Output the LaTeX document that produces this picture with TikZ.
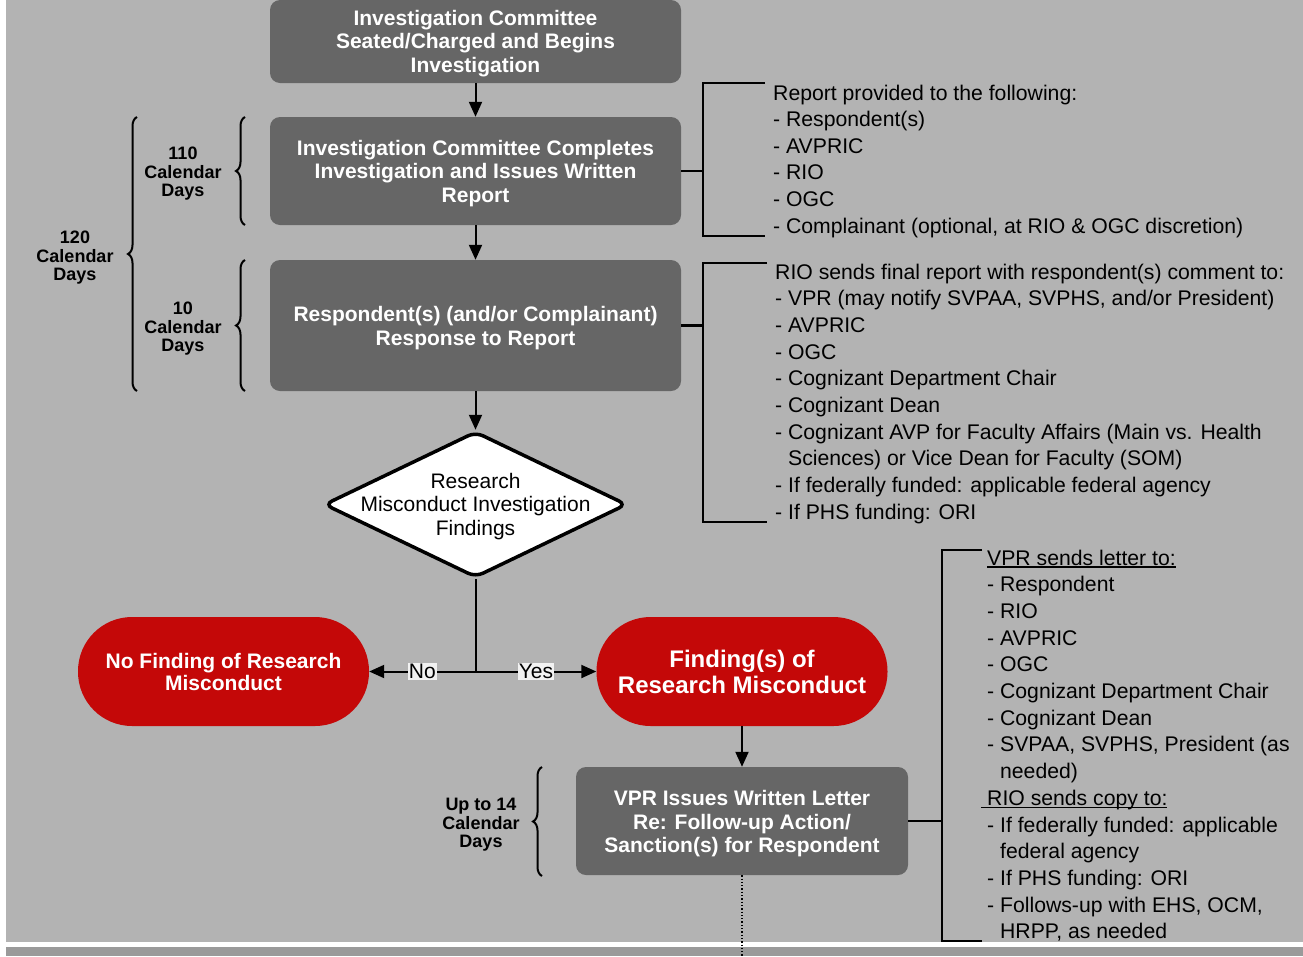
\documentclass[tikz,border=0pt]{standalone}
\usepackage{fontspec}
\setmainfont{Liberation Sans}
\usetikzlibrary{arrows.meta,shapes.geometric,decorations.pathreplacing}
\definecolor{bg}{HTML}{B3B3B3}
\definecolor{bgdark}{HTML}{9A9A9A}
\definecolor{boxgray}{HTML}{666666}
\definecolor{ovalred}{HTML}{C40808}
\definecolor{lblfill}{HTML}{F2F2F2}
\newcommand\ulx[1]{\setbox0\hbox{#1}\rlap{\rule[-2.5pt]{\wd0}{1.3pt}}#1}
\begin{document}
\begin{tikzpicture}[x=1pt,y=-1pt,
  stepbox/.style={fill=boxgray, rounded corners=10pt, inner sep=0pt,
    minimum width=411pt},
  boxtext/.style={text=white, font=\bfseries\fontsize{21}{23.5}\selectfont,
    align=center, inner sep=0pt},
  oval/.style={fill=ovalred, rounded corners=54pt, text=white,
    font=\bfseries\fontsize{21}{22}\selectfont, align=center, inner sep=0pt,
    minimum width=291pt, minimum height=109pt},
  dia/.style={diamond, draw=black, fill=white, line width=3.5pt,
    minimum width=303pt, minimum height=146pt, inner sep=0pt, rounded corners=8pt},
  diatext/.style={font=\fontsize{21}{23.5}\selectfont, align=center, inner sep=0pt},
  arr/.style={line width=2pt, -{Triangle[length=15pt,width=13pt]}},
  plain/.style={line width=2pt},
  brk/.style={line width=2.5pt},
  brc/.style={line width=2pt, decorate, decoration={brace, amplitude=9pt}},
  days/.style={font=\bfseries\fontsize{18}{18.5}\selectfont, align=center, inner sep=0pt},
  lbl/.style={fill=lblfill, inner sep=1pt, font=\fontsize{21}{23}\selectfont},
  lst/.style={font=\fontsize{21.2}{26.6}\selectfont, anchor=base west, inner sep=0pt}
]
\useasboundingbox (0,0) rectangle (1303,956);
\fill[white] (0,0) rectangle (1303,956);
\fill[bg] (6,0) rectangle (1303,942);
\fill[bgdark] (6,947) rectangle (1303,956);

% main flow
\node[stepbox, minimum height=83pt] (b1) at (475.5,41.5) {};
\node[boxtext] (b1t) at ([yshift=-2pt]b1.center) {Investigation Committee\\Seated/Charged and Begins\\Investigation};
\node[stepbox, minimum height=108pt] (b2) at (475.5,171) {};
\node[boxtext] (b2t) at ([yshift=-2.5pt]b2.center) {Investigation Committee Completes\\Investigation and Issues Written\\Report};
\node[stepbox, minimum height=131pt] (b3) at (475.5,325.5) {};
\node[boxtext] (b3t) at ([yshift=-2.5pt]b3.center) {Respondent(s) (and/or Complainant)\\Response to Report};
\node[dia] (dia) at (475.5,504.5) {};
\node[diatext] (diat) at (475.5,506.5) {Research\\Misconduct Investigation\\Findings};
\node[oval] (nof) at (223.5,671.5) {No Finding of Research\\Misconduct};
\node[oval, font=\bfseries\fontsize{24}{26}\selectfont] (fof) at (742,671.5) {Finding(s) of\\Research Misconduct};
\node[stepbox, minimum width=332pt, minimum height=108pt] (vpr) at (742,821) {};
\node[boxtext] (vprt) at ([yshift=-3pt]vpr.center) {VPR Issues Written Letter\\Re: Follow-up Action/\\Sanction(s) for Respondent};

\draw[arr] (b1) -- (b2);
\draw[arr] (b2) -- (b3);
\draw[arr] (b3) -- (dia);
\coordinate (j) at (475.5,671.5);
\draw[plain] (dia.south) -- (j);
\draw[arr] (j) -- node[lbl] (no) {No} (nof.east);
\draw[arr] (j) -- node[lbl] (yes) {Yes} (fof.west);
\draw[arr] (fof.south) -- (vpr.north);
\coordinate (dotend) at (742,956);
\draw[dotted, line width=1.3pt] (vpr.south) -- (dotend);

% brackets
\coordinate (r1a) at (765,83);  \coordinate (r1b) at (703,83);
\coordinate (r1c) at (703,236); \coordinate (r1d) at (765,236);
\draw[brk] (r1a) -- (r1b) -- (r1c) -- (r1d);
\draw[brk] (b2.east) -- (b2.east -| r1b);
\coordinate (r2a) at (767,263);  \coordinate (r2b) at (703,263);
\coordinate (r2c) at (703,522);  \coordinate (r2d) at (767,522);
\draw[brk] (r2a) -- (r2b) -- (r2c) -- (r2d);
\draw[brk] (b3.east) -- (b3.east -| r2b);
\coordinate (r3a) at (982,550);  \coordinate (r3b) at (942,550);
\coordinate (r3c) at (942,941);  \coordinate (r3d) at (982,941);
\draw[brk] (r3a) -- (r3b) -- (r3c) -- (r3d);
\draw[brk] (vpr.east) -- (vpr.east -| r3b);

% braces
\draw[brc] (137,391) -- (137,117);
\draw[brc] (245,225) -- (245,117);
\draw[brc] (245,391) -- (245,260);
\draw[brc] (542,876) -- (542,767);
\node[days] (d120) at (75,258) {120\\Calendar\\Days};
\node[days] (d110) at (183,174) {110\\Calendar\\Days};
\node[days] (d10) at (183,329) {10\\Calendar\\Days};
\node[days] (d14) at (481,825) {Up to 14\\Calendar\\Days};

% lists
\foreach \t [count=\i from 0] in {{Report provided to the following:},{- Respondent(s)},{- AVPRIC},{- RIO},{- OGC},{- Complainant (optional, at RIO \& OGC discretion)}}
  \node[lst] (la\i) at (773,{100+26.6*\i}) {\t};
\foreach \t [count=\i from 0] in {{RIO sends final report with respondent(s) comment to:},{- VPR (may notify SVPAA, SVPHS, and/or President)},{- AVPRIC},{- OGC},{- Cognizant Department Chair},{- Cognizant Dean},{- Cognizant AVP for Faculty Affairs (Main vs. Health},{\hphantom{- }Sciences) or Vice Dean for Faculty (SOM)},{- If federally funded: applicable federal agency},{- If PHS funding: ORI}}
  \node[lst] (lb\i) at (775,{279+26.67*\i}) {\t};
\foreach \t [count=\i from 0] in {{\ulx{VPR sends letter to:}},{- Respondent},{- RIO},{- AVPRIC},{- OGC},{- Cognizant Department Chair},{- Cognizant Dean},{- SVPAA, SVPHS, President (as},{\hphantom{- }needed)},{\hspace*{-6pt}\ulx{\hspace*{6pt}RIO sends copy to:}},{- If federally funded: applicable},{\hphantom{- }federal agency},{- If PHS funding: ORI},{- Follows-up with EHS, OCM,},{\hphantom{- }HRPP, as needed}}
  \node[lst] (lc\i) at (987,{565+26.7*\i}) {\t};
\end{tikzpicture}
\end{document}
